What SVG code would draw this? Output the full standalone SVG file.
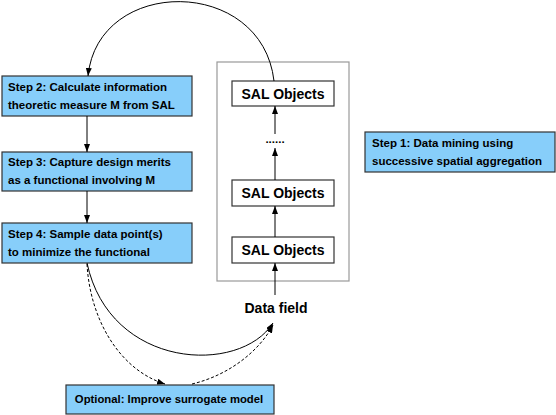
<svg xmlns="http://www.w3.org/2000/svg" width="556" height="415" viewBox="0 0 556 415">
<defs>
<marker id="ah" markerWidth="8" markerHeight="6" refX="8" refY="3" orient="auto" markerUnits="userSpaceOnUse">
<path d="M0,0 L8,3 L0,6 Z" fill="#000"/>
</marker>
<style>
.step{fill:#87cefa;stroke:#333;stroke-width:1.2}
.sal{fill:#fff;stroke:#333;stroke-width:1.2}
.t{font-family:"Liberation Sans",Arial,sans-serif;font-weight:bold;font-size:11.5px;fill:#000}
.big{font-family:"Liberation Sans",Arial,sans-serif;font-weight:bold;font-size:14px;fill:#000}
.c{fill:none;stroke:#000;stroke-width:1}
.d{fill:none;stroke:#000;stroke-width:1;stroke-dasharray:3,2}
</style>
</defs>
<rect width="556" height="415" fill="#fff"/>
<g id="container">
<rect x="217" y="62" width="132" height="219" fill="none" stroke="#999" stroke-width="1.2"/>
</g>
<g id="step2">
<rect class="step" x="2" y="76" width="190" height="40"/>
<text class="t" x="8" y="91">Step 2: Calculate information</text>
<text class="t" x="8" y="109">theoretic measure M from SAL</text>
</g>
<g id="step3">
<rect class="step" x="2" y="152" width="190" height="39"/>
<text class="t" x="8" y="166">Step 3: Capture design merits</text>
<text class="t" x="8" y="184">as a functional involving M</text>
</g>
<g id="step4">
<rect class="step" x="2" y="223" width="190" height="40"/>
<text class="t" x="8" y="238">Step 4: Sample data point(s)</text>
<text class="t" x="8" y="256">to minimize the functional</text>
</g>
<g id="step1">
<rect class="step" x="365" y="132" width="190" height="40"/>
<text class="t" x="372" y="147">Step 1: Data mining using</text>
<text class="t" x="372" y="165">successive spatial aggregation</text>
</g>
<g id="optional">
<rect class="step" x="66" y="385" width="208" height="29"/>
<text class="t" x="169" y="403" text-anchor="middle" style="font-size:11.3px">Optional: Improve surrogate model</text>
</g>
<g id="sal-top">
<rect class="sal" x="232" y="81" width="102" height="25"/>
<text class="big" x="283" y="99" text-anchor="middle">SAL Objects</text>
</g>
<g id="dots">
<text class="t" x="275" y="143" text-anchor="middle">......</text>
</g>
<g id="sal-mid">
<rect class="sal" x="232" y="180" width="102" height="26"/>
<text class="big" x="283" y="198" text-anchor="middle">SAL Objects</text>
</g>
<g id="sal-bot">
<rect class="sal" x="232" y="237" width="102" height="26"/>
<text class="big" x="283" y="255" text-anchor="middle">SAL Objects</text>
</g>
<g id="datafield">
<text class="big" x="276" y="313" text-anchor="middle">Data field</text>
</g>
<g id="connectors">
<line class="c" x1="87" y1="116" x2="87" y2="152" marker-end="url(#ah)"/>
<line class="c" x1="87" y1="191" x2="87" y2="223" marker-end="url(#ah)"/>
<line class="c" x1="275" y1="295" x2="275" y2="263" marker-end="url(#ah)"/>
<line class="c" x1="275" y1="237" x2="275" y2="206" marker-end="url(#ah)"/>
<line class="c" x1="275" y1="180" x2="275" y2="148" marker-end="url(#ah)"/>
<line class="c" x1="275" y1="134" x2="275" y2="106" marker-end="url(#ah)"/>
<path class="c" d="M274 81 C262 -24 98 -24 88 76" marker-end="url(#ah)"/>
<path class="c" d="M87 263 C110 370 240 375 273 323" marker-end="url(#ah)"/>
<path class="d" d="M87 264 C90 320 120 370 165 384" marker-end="url(#ah)"/>
<path class="d" d="M192 384 C230 375 260 350 273 325" marker-end="url(#ah)"/>
</g>
</svg>
